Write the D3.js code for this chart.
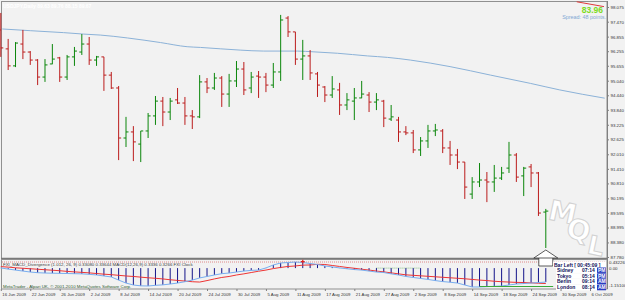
<!DOCTYPE html>
<html>
<head>
<meta charset="utf-8">
<script src="https://cdn.jsdelivr.net/npm/d3@7"></script>
<style>
  html, body { margin: 0; padding: 0; background: #f2f2f2; }
  svg { display: block; font-family: 'Liberation Sans', Arial, sans-serif; }
</style>
</head>
<body>
<div id="chart"></div>
<script>
// daily bars, 16 Jun 2009 .. 28 Sep 2009 (bar index 0..74)
const opens = [97.13, 96.35, 95.65, 96.55, 96.22, 95.89, 95.19, 95.73, 95.98, 95.19,
  96.02, 96.22, 96.55, 95.89, 96.02, 95.27, 94.74, 92.68, 92.93, 92.43,
  92.97, 93.59, 94.20, 93.75, 94.25, 94.12, 93.59, 93.55, 94.99, 94.74,
  95.15, 94.49, 95.03, 95.52, 94.74, 95.23, 95.19, 94.86, 95.40, 97.62,
  97.05, 95.93, 96.06, 95.32, 94.78, 94.45, 94.66, 94.04, 94.20, 94.33,
  94.45, 94.16, 94.20, 93.46, 93.42, 92.93, 92.89, 92.19, 92.56, 92.97,
  92.97, 92.27, 91.98, 91.69, 90.37, 90.87, 90.95, 90.87, 91.03, 91.44,
  91.98, 91.12, 91.49, 91.24, 89.63];
const highs = [97.83, 96.76, 96.63, 97.13, 96.26, 95.93, 95.93, 96.55, 96.02, 96.10,
  96.43, 96.96, 96.84, 96.06, 96.02, 95.40, 94.82, 93.55, 93.17, 92.97,
  93.71, 94.41, 94.37, 94.33, 94.74, 94.37, 93.83, 95.27, 95.15, 95.36,
  95.23, 95.32, 95.85, 95.81, 95.40, 95.44, 95.36, 95.77, 97.75, 97.70,
  97.05, 96.72, 96.30, 95.40, 94.82, 95.23, 94.95, 94.53, 94.74, 95.03,
  94.57, 94.53, 94.25, 94.04, 93.55, 93.17, 93.01, 92.72, 93.22, 93.26,
  93.05, 92.56, 92.23, 91.69, 91.07, 91.65, 91.28, 91.57, 91.49, 92.52,
  92.06, 91.49, 91.61, 91.28, 89.76];
const lows = [96.02, 95.48, 95.60, 95.93, 95.69, 94.86, 94.99, 95.72, 94.99, 95.07,
  95.65, 96.10, 95.69, 95.65, 94.62, 94.70, 91.77, 92.31, 91.73, 91.69,
  92.68, 93.22, 93.17, 93.42, 94.08, 93.22, 93.05, 93.50, 94.53, 94.66,
  93.96, 93.96, 94.78, 94.45, 94.53, 94.33, 94.57, 94.74, 95.03, 96.84,
  95.69, 95.07, 95.07, 94.37, 94.16, 94.33, 93.63, 93.83, 93.42, 94.32,
  93.75, 93.83, 93.13, 93.38, 92.52, 92.80, 92.06, 91.94, 92.27, 92.76,
  92.06, 91.57, 91.40, 90.17, 90.17, 90.66, 90.04, 90.46, 90.95, 91.24,
  90.87, 90.29, 90.66, 89.47, 88.15];
const closes = [96.39, 95.65, 96.59, 96.22, 95.89, 95.19, 95.69, 95.93, 95.19, 96.02,
  96.26, 96.55, 95.89, 96.02, 95.27, 94.74, 92.68, 92.93, 92.52, 92.97,
  93.59, 94.20, 93.75, 94.20, 94.12, 93.59, 93.55, 94.99, 94.74, 95.15,
  94.49, 95.03, 95.52, 94.66, 95.19, 95.19, 94.86, 95.40, 97.54, 97.05,
  95.93, 96.06, 95.36, 94.86, 94.45, 94.70, 94.04, 94.25, 94.33, 94.49,
  94.16, 94.25, 93.50, 93.55, 92.93, 92.89, 92.19, 92.56, 92.97, 93.01,
  92.27, 91.98, 91.69, 90.66, 90.87, 90.95, 90.87, 91.03, 91.24, 91.98,
  91.07, 91.44, 91.24, 89.59, 89.67];

// moving average (shifted), read at a few bar positions
const maIdx = [0.2, 4.0, 8.5, 11.2, 13.5, 17.2, 21.7, 25.3, 27.1, 32.5, 35.7, 40.3, 42.4, 45.7, 49.8, 52.5, 55.6, 61.0, 66.5, 71.9, 75.9, 82.0];
const maVal = [97.17, 97.10, 97.02, 96.96, 96.92, 96.80, 96.61, 96.44, 96.41, 96.30, 96.26, 96.26, 96.23, 96.17, 96.06, 96.00, 95.89, 95.62, 95.27, 94.93, 94.66, 94.32];

// trendline piece at top right
const trendIdx = [78.2, 81.9];
const trendVal = [98.29, 98.09];

// indicator window
const macd = [0.01, -0.06, -0.12, -0.18, -0.24, -0.28, -0.30, -0.31, -0.32, -0.33,
  -0.34, -0.35, -0.38, -0.42, -0.48, -0.54, -0.73, -0.91, -1.03, -1.08,
  -1.09, -1.05, -1.02, -0.97, -0.91, -0.83, -0.73, -0.60, -0.51, -0.42,
  -0.34, -0.30, -0.24, -0.18, -0.14, -0.12, 0.01, 0.19, 0.31, 0.34,
  0.37, 0.34, 0.28, 0.22, 0.13, 0.07, 0.01, -0.04, -0.09, -0.12,
  -0.18, -0.24, -0.27, -0.35, -0.42, -0.51, -0.57, -0.63, -0.69, -0.76,
  -0.82, -0.86, -0.91, -1.03, -1.15, -1.15, -1.13, -1.11, -1.09, -1.03,
  -0.97, -0.94, -0.91, -0.88, -0.85];
const signal = [0.09, 0.06, 0.02, -0.01, -0.04, -0.07, -0.10, -0.13, -0.16, -0.20,
  -0.23, -0.26, -0.29, -0.33, -0.37, -0.40, -0.44, -0.48, -0.51, -0.55,
  -0.59, -0.62, -0.66, -0.71, -0.75, -0.79, -0.83, -0.85, -0.76, -0.66,
  -0.57, -0.51, -0.42, -0.35, -0.27, -0.19, -0.12, -0.03, 0.04, 0.10,
  0.13, 0.18, 0.19, 0.23, 0.22, 0.16, 0.10, 0.04, -0.01, -0.07,
  -0.12, -0.18, -0.23, -0.29, -0.35, -0.41, -0.44, -0.47, -0.50, -0.53,
  -0.56, -0.59, -0.62, -0.65, -0.69, -0.73, -0.76, -0.80, -0.83, -0.85,
  -0.87, -0.88, -0.90, -0.92, -0.94];
const divIdx = [65, 75];
const divVal = [-1.12, -1.12];
const markIdx = 41, markVal = 0.40;

// axes
const priceTicks = [98.075, 97.470, 96.855, 96.255, 95.655, 95.040, 94.440, 93.840, 93.225,
  92.625, 92.010, 91.410, 90.810, 90.195, 89.595, 88.995, 88.380, 87.780];
const indTicks = [0.43226, 0, -1.151];
const indTickLabels = ['0.43226', '0.00', '-1.15100'];
const dateTicks = d3.range(0, 81, 4);
const dateLabels = ['16 Jun 2009', '22 Jun 2009', '26 Jun 2009', '2 Jul 2009', '8 Jul 2009',
  '14 Jul 2009', '20 Jul 2009', '24 Jul 2009', '30 Jul 2009', '5 Aug 2009', '11 Aug 2009',
  '17 Aug 2009', '21 Aug 2009', '27 Aug 2009', '2 Sep 2009', '8 Sep 2009', '14 Sep 2009',
  '18 Sep 2009', '24 Sep 2009', '30 Sep 2009', '6 Oct 2009'];

const clockNames = ['Sidney', 'Tokyo', 'Berlin', 'London'];
const clockTimes = ['07:14', '05:14', '09:14', '08:14'];
const clockAmPm = ['PM', 'PM', 'AM', 'AM'];

const W = 625, H = 300;
const svg = d3.select('#chart').append('svg').attr('width', W).attr('height', H);
svg.append('rect').attr('width', W).attr('height', H).attr('fill', '#f2f2f2');

const x = d3.scaleLinear().domain([0, 80]).range([0.8, 590]);
const y = d3.scaleLinear().domain([87.78, 98.075]).range([257, 7]);
const yi = d3.scaleLinear().domain([-1.151, 0.43226]).range([287, 261]);

// frames
svg.append('rect').attr('x', 1.5).attr('y', 1.5).attr('width', 605.5).attr('height', 257)
  .attr('fill', 'none').attr('stroke', '#909090');
svg.append('line').attr('x1', 1).attr('x2', 607).attr('y1', 258.5).attr('y2', 258.5)
  .attr('stroke', '#7a7a7a').attr('stroke-width', 1.6);
svg.append('rect').attr('x', 1.5).attr('y', 259.5).attr('width', 605.5).attr('height', 29.5)
  .attr('fill', 'none').attr('stroke', '#909090');

// white watermark letters
const wm = svg.append('g').attr('font-family', 'DejaVu Sans').attr('font-weight', 'bold')
  .attr('fill', '#ffffff').attr('stroke', '#d2d2d2').attr('stroke-width', 1);
[['M', 547, 219, 28], ['Q', 565, 237, 28], ['L', 586, 253, 26]].forEach(([t, tx, ty, fs]) => {
  wm.append('text').attr('x', tx).attr('y', ty).attr('font-size', fs)
    .attr('transform', `rotate(12,${tx},${ty})`).text(t);
});

// title in white
svg.append('text').attr('x', 3).attr('y', 7.5).attr('font-size', 5).attr('font-weight', 'bold')
  .attr('fill', '#ffffff').text('USDJPY,Daily  89.63 89.76 88.15 89.67');

// moving average
svg.append('path')
  .datum(maIdx.map((d, i) => [d, maVal[i]]))
  .attr('fill', 'none').attr('stroke', '#8cb2d8').attr('stroke-width', 1)
  .attr('d', d3.line().x(d => x(d[0])).y(d => y(d[1])).curve(d3.curveMonotoneX));

svg.append('path')
  .datum(trendIdx.map((d, i) => [d, trendVal[i]]))
  .attr('fill', 'none').attr('stroke', '#e03a3a').attr('stroke-width', 1)
  .attr('d', d3.line().x(d => x(d[0])).y(d => y(d[1])));

// OHLC bars
const bars = svg.append('g').selectAll('g').data(opens.map((o, i) => i)).join('g')
  .attr('stroke', i => closes[i] >= opens[i] ? '#0b860b' : '#bb1c1c')
  .attr('stroke-width', 1);
bars.append('line')
  .attr('x1', i => x(i)).attr('x2', i => x(i))
  .attr('y1', i => y(highs[i])).attr('y2', i => y(lows[i]));
bars.append('line')
  .attr('x1', i => x(i) - 2.5).attr('x2', i => x(i))
  .attr('y1', i => y(opens[i])).attr('y2', i => y(opens[i]));
bars.append('line')
  .attr('x1', i => x(i)).attr('x2', i => x(i) + 2.5)
  .attr('y1', i => y(closes[i])).attr('y2', i => y(closes[i]));

// top right info
svg.append('text').attr('x', 603).attr('y', 13).attr('text-anchor', 'end')
  .attr('font-size', 8.5).attr('font-weight', 'bold').attr('fill', '#7cdc1e').text('83.96');
svg.append('text').attr('x', 606).attr('y', 18.6).attr('text-anchor', 'end')
  .attr('font-size', 5.4).attr('fill', '#7fa8d4').text('Spread: 48 points.');

// price axis
const ya = svg.append('g').attr('transform', 'translate(607,0)')
  .call(d3.axisRight(y).tickValues(priceTicks).tickFormat(d3.format('.3f')).tickSize(2).tickPadding(1.5));
ya.select('.domain').attr('stroke', '#808080');
ya.selectAll('line').attr('stroke', '#808080');
ya.selectAll('text').attr('font-size', 4.4).attr('fill', '#333').attr('font-family', 'Liberation Sans');
ya.select('.domain').attr('d', 'M0.5,1V289');

// indicator levels
svg.append('line').attr('x1', 2).attr('x2', 606).attr('y1', yi(0.37)).attr('y2', yi(0.37))
  .attr('stroke', '#e08a8a').attr('stroke-dasharray', '1,1');
svg.append('line').attr('x1', x(51)).attr('x2', x(57)).attr('y1', yi(0)).attr('y2', yi(0))
  .attr('stroke', '#88c088').attr('stroke-dasharray', '1,1');

// histogram
svg.append('g').selectAll('line').data(macd).join('line')
  .attr('x1', (d, i) => x(i)).attr('x2', (d, i) => x(i))
  .attr('y1', yi(0)).attr('y2', d => yi(d))
  .attr('stroke', '#14148a').attr('stroke-width', 1);

const lineI = d3.line().x((d, i) => x(i)).y(d => yi(d));
svg.append('path').datum(signal).attr('fill', 'none').attr('stroke', '#ee3434').attr('stroke-width', 1).attr('d', lineI);
svg.append('path').datum(macd).attr('fill', 'none').attr('stroke', '#78aef0').attr('stroke-width', 1).attr('d', lineI);
svg.append('path')
  .datum(divIdx.map((d, i) => [d, divVal[i]]))
  .attr('fill', 'none').attr('stroke', '#3aa83a').attr('stroke-width', 1.2)
  .attr('d', d3.line().x(d => x(d[0])).y(d => yi(d[1])));
svg.append('path').attr('transform', `translate(${x(markIdx)},${yi(markVal)})`)
  .attr('d', d3.symbol(d3.symbolCross, 8)).attr('fill', '#e02020');

// indicator texts
svg.append('text').attr('x', 3).attr('y', 266).attr('font-size', 4.4).attr('fill', '#404040')
  .text('FXI_MACD_Divergence (1.012, 26, 9) 0.33080 0.33644   MACD(12,26,9) 0.3336 0.3266   FXI Clock');
svg.append('text').attr('x', 3).attr('y', 288).attr('font-size', 4.4).attr('fill', '#2e5a2e')
  .text('MetaTrader - Alpari UK, \u00a9 2001-2010 MetaQuotes Software Corp.');

// indicator axis labels
const ia = svg.append('g').attr('transform', 'translate(607,0)');
ia.selectAll('text').data(indTicks).join('text')
  .attr('x', 2).attr('y', (d, i) => yi(d) + (i === 0 ? 2.5 : i === 2 ? -0.5 : 1.5))
  .attr('font-size', 4.4).attr('fill', '#333').text((d, i) => indTickLabels[i]);

// bar-left arrow under the last bar
const ax = x(74), ay = 258;
svg.append('path')
  .attr('d', `M${ax - 12},${ay}L${ax},${ay - 8}L${ax + 12},${ay}Z M${ax - 7},${ay}V${ay + 8}H${ax + 7}V${ay}`)
  .attr('fill', '#ffffff').attr('stroke', '#333').attr('stroke-width', 0.8);

// clock block
svg.append('rect').attr('x', 553).attr('y', 261.5).attr('width', 53).attr('height', 6).attr('fill', '#ffffff');
svg.append('text').attr('x', 554).attr('y', 266.5).attr('font-size', 5).attr('font-weight', 'bold')
  .attr('fill', '#10105a').text('Bar Left [ 00:45:09 ]');
const rows = svg.append('g').selectAll('g').data(clockNames).join('g')
  .attr('transform', (d, i) => `translate(0,${271.8 + i * 5.8})`);
rows.append('rect').attr('x', 556).attr('y', -4.3).attr('width', 50).attr('height', 5.4).attr('fill', '#ffffff');
rows.append('rect').attr('x', 597).attr('y', -4.3).attr('width', 9).attr('height', 5.4).attr('fill', '#2a3cc0');
rows.append('text').attr('x', 557).attr('font-size', 5).attr('font-weight', 'bold').attr('fill', '#10105a').text(d => d);
rows.append('text').attr('x', 582).attr('font-size', 5).attr('font-weight', 'bold').attr('fill', '#10105a').text((d, i) => clockTimes[i]);
rows.append('text').attr('x', 598).attr('font-size', 5).attr('font-weight', 'bold').attr('fill', '#ffffff').text((d, i) => clockAmPm[i]);

// date axis
const xa = svg.append('g').attr('transform', 'translate(0,289)')
  .call(d3.axisBottom(x).tickValues(dateTicks).tickFormat((d, i) => dateLabels[i]).tickSize(2).tickPadding(2));
xa.select('.domain').remove();
xa.selectAll('line').attr('stroke', '#808080');
xa.selectAll('text').attr('text-anchor', 'start').attr('dx', 1).attr('font-size', 4.3)
  .attr('fill', '#333').attr('font-family', 'Liberation Sans');
</script>
</body>
</html>
